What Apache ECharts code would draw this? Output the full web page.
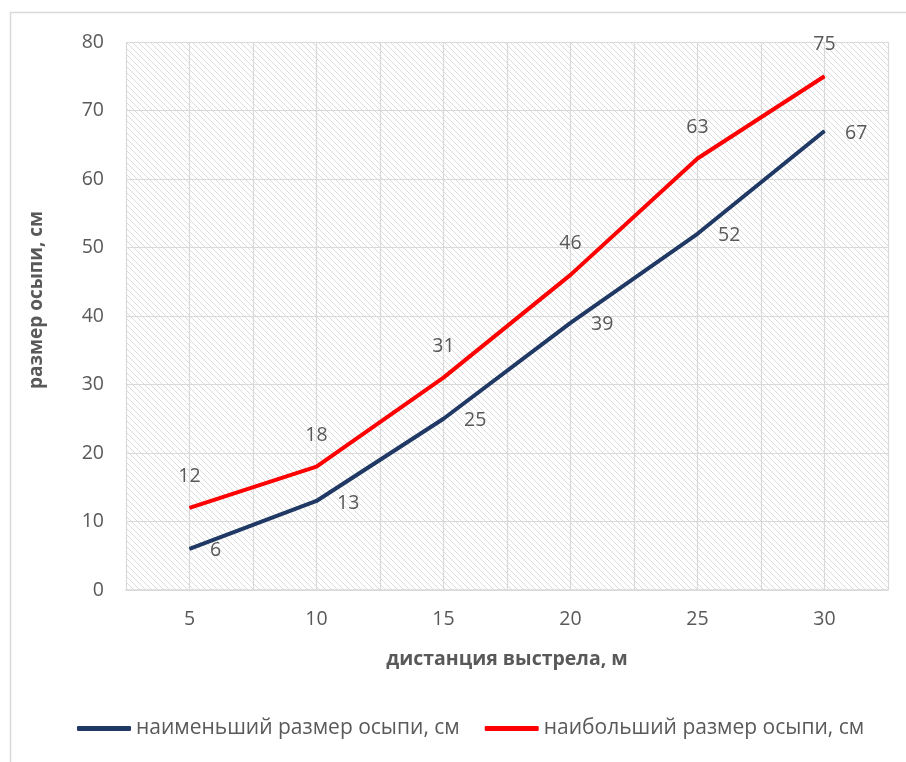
<!DOCTYPE html>
<html>
<head>
<meta charset="utf-8">
<script src="https://cdn.jsdelivr.net/npm/echarts@6/dist/echarts.min.js"></script>
<style>
  html, body { margin: 0; padding: 0; background: #fff; }
  #chart { width: 906px; height: 762px; }
</style>
</head>
<body>
<div id="chart"></div>
<script>
// Shot spread vs. shooting distance
const distances = ['5', '10', '15', '20', '25', '30'];
const minSpread = [6, 13, 25, 39, 52, 67];
const maxSpread = [12, 18, 31, 46, 63, 75];
const seriesNames = ['наименьший размер осыпи, см', 'наибольший размер осыпи, см'];
const xTitle = 'дистанция выстрела, м';
const yTitle = 'размер осыпи, см';

// Diagonal hatch used as the plot background
function makeHatch() {
  const c = document.createElement('canvas');
  const s = 6;
  c.width = s; c.height = s;
  const g = c.getContext('2d');
  g.fillStyle = '#ffffff';
  g.fillRect(0, 0, s, s);
  g.strokeStyle = '#dcdcdc';
  g.lineWidth = 1;
  g.beginPath();
  g.moveTo(-1, -1); g.lineTo(s + 1, s + 1);
  g.moveTo(-1, s - 1); g.lineTo(1, s + 1);
  g.moveTo(s - 1, -1); g.lineTo(s + 1, 1);
  g.stroke();
  return c;
}

const textColor = '#595959';
const fontFamily = '"Open Sans", "Noto Sans", sans-serif';
const chart = echarts.init(document.getElementById('chart'), null, { renderer: 'canvas' });

chart.setOption({
  backgroundColor: '#ffffff',
  animation: false,
  textStyle: { fontFamily: fontFamily },
  grid: {
    left: 126, right: 18, top: 42, bottom: 172,
    show: true,
    borderWidth: 0,
    backgroundColor: { image: makeHatch(), repeat: 'repeat' }
  },
  graphic: [
    {
      type: 'rect', left: 8, top: 10, silent: true, z: -10,
      shape: { width: 1000, height: 1000 },
      style: { fill: 'none', stroke: '#d9d9d9', lineWidth: 1.5 }
    },
    {
      type: 'text', x: 37, y: 300, rotation: Math.PI / 2,
      style: {
        text: yTitle, fill: textColor, font: 'bold 19px ' + fontFamily,
        align: 'center', verticalAlign: 'middle'
      }
    }
  ],
  legend: {
    left: 77, top: 718, padding: 0,
    itemGap: 25, itemWidth: 54, itemHeight: 5,
    icon: 'roundRect',
    textStyle: { color: textColor, fontSize: 21, fontFamily: fontFamily },
    data: seriesNames
  },
  xAxis: [
    {
      type: 'category',
      data: distances,
      boundaryGap: true,
      axisLine: { show: true, lineStyle: { color: '#d9d9d9', width: 1.5 } },
      axisTick: { show: false },
      axisLabel: { color: textColor, fontSize: 19.5, margin: 19 },
      splitLine: { show: false },
      name: xTitle,
      nameLocation: 'middle',
      nameGap: 59,
      nameTextStyle: { color: textColor, fontSize: 19.5, fontWeight: 'bold', verticalAlign: 'top' }
    },
    {
      // half-step vertical grid lines
      type: 'value', min: 0, max: 12, interval: 1,
      position: 'bottom',
      axisLine: { show: false }, axisTick: { show: false }, axisLabel: { show: false },
      splitLine: { show: true, lineStyle: { color: '#d9d9d9', width: 1.2 } }
    }
  ],
  yAxis: {
    type: 'value', min: 0, max: 80, interval: 10,
    axisLine: { show: false }, axisTick: { show: false },
    axisLabel: { color: textColor, fontSize: 19.5, margin: 22 },
    splitLine: { show: true, lineStyle: { color: '#d9d9d9', width: 1.2 } }
  },
  series: [
    {
      name: seriesNames[0], type: 'line', data: minSpread,
      xAxisIndex: 0,
      symbol: 'circle', symbolSize: 1, showSymbol: true,
      lineStyle: { color: '#1f3864', width: 4 },
      itemStyle: { color: '#1f3864' },
      label: { show: true, position: 'right', distance: 20, offset: [0, 2], color: textColor, fontSize: 19.5 },
      z: 3
    },
    {
      name: seriesNames[1], type: 'line', data: maxSpread,
      xAxisIndex: 0,
      symbol: 'circle', symbolSize: 1, showSymbol: true,
      lineStyle: { color: '#ff0000', width: 4 },
      itemStyle: { color: '#ff0000' },
      label: { show: true, position: 'top', distance: 21, color: textColor, fontSize: 19.5 },
      z: 3
    }
  ]
});
</script>
</body>
</html>
